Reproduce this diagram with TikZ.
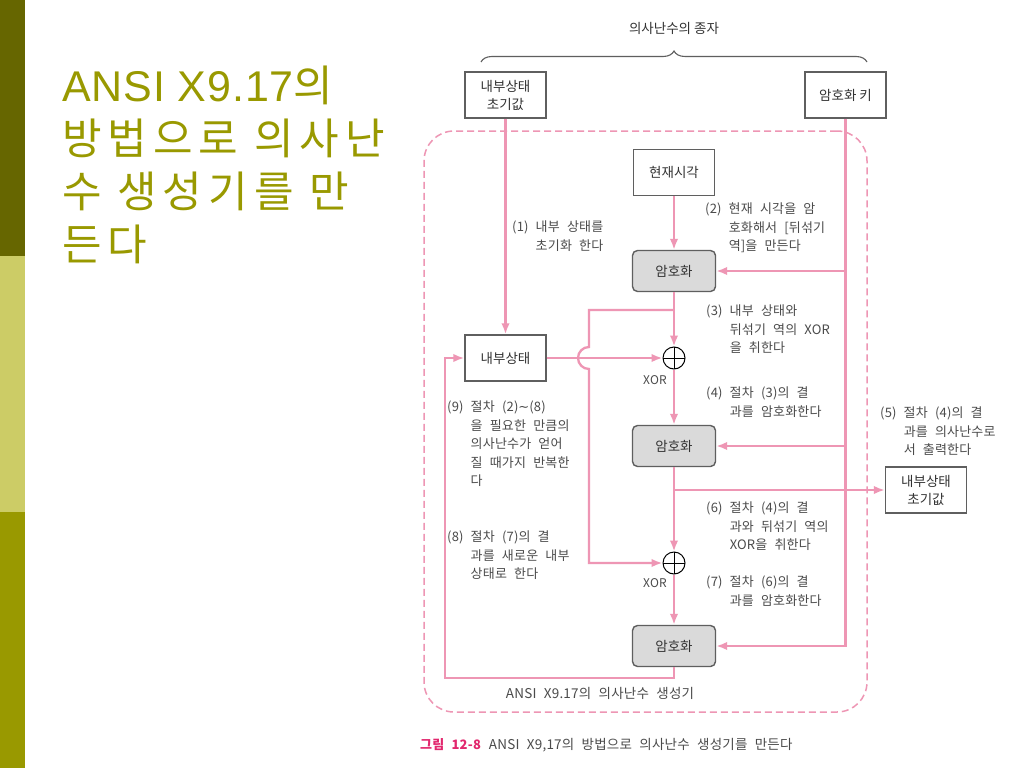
\documentclass[tikz,border=0pt]{standalone}
\usepackage{fontspec}
\setmainfont{Noto Sans CJK KR}
\newfontfamily\titlefont[LetterSpace=14]{Noto Sans CJK KR}
\newfontfamily\titlelatin[LetterSpace=2]{Liberation Sans}
\newfontfamily\notefont[WordSpace=2.3, LetterSpace=1.5]{Noto Sans CJK KR}
\newfontfamily\symfont{DejaVu Sans}
\usepackage{tikz}
\usetikzlibrary{calc}
\usetikzlibrary{arrows.meta}
\usetikzlibrary{decorations.pathreplacing}
\definecolor{wirepink}{RGB}{238,150,180}
\definecolor{boxgray}{RGB}{95,95,95}
\definecolor{encgray}{RGB}{218,218,218}
\definecolor{txtgray}{RGB}{75,75,75}
\definecolor{slideolive}{RGB}{153,153,0}
\definecolor{darkolive}{RGB}{102,102,0}
\definecolor{paleolive}{RGB}{204,204,102}
\definecolor{capred}{RGB}{226,40,110}
\newcommand{\ind}{\hphantom{(0)\ }}

\begin{document}
\begin{tikzpicture}[
    x=1pt, y=-1pt,              % pixel grid, y runs downwards
    ]
% -------------------------------------------------
\tikzset{
  base/.style={draw=boxgray, line width=1.4pt, align=center, text=black!80, font=\fontsize{13.5}{18}\selectfont},
  proc/.style={base, rectangle, fill=white, minimum width=81pt, minimum height=46pt},
  enc/.style={base, rectangle, rounded corners=5pt, fill=encgray, minimum width=83pt, minimum height=41pt},
  xor/.style={circle, draw=black, line width=1pt, minimum size=22pt, inner sep=0pt, fill=white,
    path picture={\draw[line width=1pt] (path picture bounding box.north) -- (path picture bounding box.south)
      (path picture bounding box.west) -- (path picture bounding box.east);}},
  note/.style={align=left, anchor=north west, inner sep=0pt, text=txtgray, font=\notefont\fontsize{13}{18.5}\selectfont},
  line/.style={draw, wirepink, line width=2.3pt, -{Latex[length=11pt, width=8.5pt]}},
  frame/.style={draw=wirepink, line width=1.5pt, dash pattern=on 7pt off 4pt, rounded corners=30pt},
  brace/.style={decorate, decoration={brace, amplitude=11pt}, draw=boxgray, line width=1.1pt}
}
\useasboundingbox[fill=white] (0,0) rectangle (1024,768);
% side bar and slide title
\fill[darkolive] (0,0) rectangle (25,256);
\fill[paleolive] (0,256) rectangle (25,512);
\fill[slideolive] (0,512) rectangle (25,768);
\node[anchor=north west, inner sep=0pt, align=left, text=slideolive, font=\titlefont\fontsize{43}{53}\selectfont]
  (title) at (62,66) {{\titlelatin ANSI X9.17}의\\방법으로 의사난\\수 생성기를 만\\든다};
% generator frame
\node[frame, minimum width=443pt, minimum height=581pt] (prng) at (645.5,421.5) {};
\node[note, anchor=center, font=\notefont\fontsize{13.5}{16}\selectfont] (pname) at (600,693) {ANSI X9.17의 의사난수 생성기};
% seed
\node[base, draw=none] (seed) at (674,28) {의사난수의 종자};
\draw[brace] (481,62) -- (867,62);
\node [proc] (init) at (505.5,95) {내부상태\\초기값};
\node [proc] (key) at (845.5,95) {암호화 키};
% main column
\node [proc] (time) at (674,172.5) {현재시각};
\node [enc] (enc1) at (674,271) {암호화};
\node [proc] (state) at (505.5,358) {내부상태};
\node [xor] (xor1) at (674,358) {};
\node [enc] (enc2) at (674,446) {암호화};
\node [proc] (out) at (926,490) {내부상태\\초기값};
\node [xor] (xor2) at (674,563) {};
\node [enc] (enc3) at (674,646) {암호화};
\node[note, anchor=center, font=\notefont\fontsize{12}{14}\selectfont] (xl1) at (655,380) {XOR};
\node[note, anchor=center, font=\notefont\fontsize{12}{14}\selectfont] (xl2) at (655,583) {XOR};
% connectors
\coordinate (k1) at (key.south |- enc1.east);
\coordinate (k2) at (key.south |- enc2.east);
\coordinate (k3) at (key.south |- enc3.east);
\coordinate (b1) at (674,310);
\coordinate (b2) at (589,310);
\coordinate (hop) at (b2 |- state);
\coordinate (b3) at (b2 |- xor2);
\coordinate (o1) at (enc2.south |- out);
\coordinate (f1) at (674,678);
\coordinate (f2) at (445,678);
\path [line] (init) -- (state);
\path [line] (key) -- (k3) -- (enc3);
\path [line] (k1) -- (enc1);
\path [line] (k2) -- (enc2);
\path [line] (time) -- (enc1);
\path [line] (enc1) -- (xor1);
\path [line] (b1) -- (b2) -- ([yshift=11pt]hop) arc[start angle=90, end angle=270, radius=11pt] -- (b3) -- (xor2);
\path [line] (state) -- (xor1);
\path [line] (xor1) -- (enc2);
\path [line] (enc2) -- (xor2);
\path [line] (o1) -- (out);
\path [line] (xor2) -- (enc3);
\path [line] (enc3) -- (f1) -- (f2) -- (f2 |- state) -- (state);
% step notes
\node[note] (n1) at (512,221) {(1) 내부 상태를\\\ind 초기화 한다};
\node[note] (n2) at (705,203) {(2) 현재 시각을 암\\\ind 호화해서 [뒤섞기\\\ind 역]을 만든다};
\node[note] (n3) at (706,305) {(3) 내부 상태와\\\ind 뒤섞기 역의 XOR\\\ind 을 취한다};
\node[note] (n4) at (706,387) {(4) 절차 (3)의 결\\\ind 과를 암호화한다};
\node[note] (n5) at (880,407) {(5) 절차 (4)의 결\\\ind 과를 의사난수로\\\ind 서 출력한다};
\node[note] (n9) at (447,401) {(9) 절차 (2){\symfont ∼}(8)\\\ind 을 필요한 만큼의\\\ind 의사난수가 얻어\\\ind 질 때가지 반복한\\\ind 다};
\node[note] (n6) at (706,502) {(6) 절차 (4)의 결\\\ind 과와 뒤섞기 역의\\\ind XOR을 취한다};
\node[note] (n7) at (706,576) {(7) 절차 (6)의 결\\\ind 과를 암호화한다};
\node[note] (n8) at (447,531) {(8) 절차 (7)의 결\\\ind 과를 새로운 내부\\\ind 상태로 한다};
% caption
\node[anchor=west, inner sep=0pt, text=txtgray, font=\notefont\fontsize{13.5}{16}\selectfont] (cap) at (420,745)
  {{\color{capred}\fontsize{13}{16}\selectfont\bfseries 그림 12-8}\hspace{8pt}ANSI X9,17의 방법으로 의사난수 생성기를 만든다};
\end{tikzpicture}
\end{document}
